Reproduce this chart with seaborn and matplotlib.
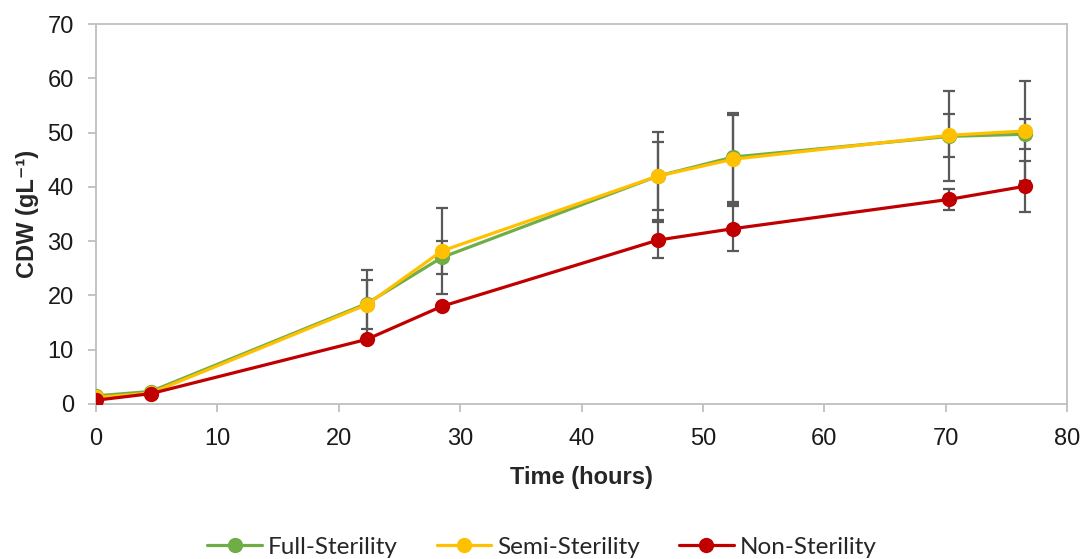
import numpy as np
import pandas as pd
import matplotlib
matplotlib.use("Agg")
import matplotlib.pyplot as plt
import seaborn as sns

# Sampling times (hours)
time_h = [0, 4.5, 22.3, 28.5, 46.3, 52.5, 70.3, 76.5]

# Cell dry weight (g/L) per sterility condition
full_sterility = [1.5, 2.3, 18.5, 27.0, 42.0, 45.5, 49.3, 49.7]
semi_sterility = [1.2, 2.0, 18.3, 28.2, 42.0, 45.1, 49.5, 50.3]
non_sterility = [0.7, 1.9, 11.9, 18.0, 30.2, 32.3, 37.7, 40.1]

# Standard deviations
full_err = [0.3, 0.3, 6.1, 3.0, 8.1, 8.2, 8.3, 2.8]
semi_err = [0.3, 0.3, 4.5, 7.9, 6.2, 8.2, 4.0, 9.2]
non_err = [0.2, 0.3, 0.5, 0.5, 3.3, 4.1, 1.9, 4.7]

conditions = ["Full-Sterility", "Semi-Sterility", "Non-Sterility"]
colors = ["#70AD47", "#FFC000", "#C00000"]

series = {
    "Full-Sterility": (full_sterility, full_err),
    "Semi-Sterility": (semi_sterility, semi_err),
    "Non-Sterility": (non_sterility, non_err),
}

df = pd.concat(
    [pd.DataFrame({"time": time_h, "cdw": vals, "err": errs, "condition": name})
     for name, (vals, errs) in series.items()],
    ignore_index=True,
)

sns.set_theme(style="white")
plt.rcParams["font.family"] = ["Liberation Sans", "DejaVu Sans"]

fig, ax = plt.subplots(figsize=(10.84, 5.59), dpi=100)
fig.subplots_adjust(left=0.0886, right=0.9843, top=0.957, bottom=0.2773)

# Error bars underneath the lines
for name in conditions:
    sub = df[df["condition"] == name]
    ax.errorbar(sub["time"], sub["cdw"], yerr=sub["err"], fmt="none",
                ecolor="#595959", elinewidth=1.6, capsize=4.5, capthick=1.6,
                zorder=1)

sns.lineplot(data=df, x="time", y="cdw", hue="condition", hue_order=conditions,
             palette=colors, marker="o", markersize=11, markeredgewidth=0,
             linewidth=2.3, ax=ax, zorder=3, legend=True)

ax.set_xlim(0, 80)
ax.set_ylim(0, 70)
ax.set_xticks(np.arange(0, 81, 10))
ax.set_yticks(np.arange(0, 71, 10))
ax.tick_params(axis="both", which="both", direction="out", length=6,
               width=1.3, color="#BFBFBF", labelsize=17, labelcolor="#1A1A1A")
ax.tick_params(axis="x", bottom=True, pad=11)
ax.tick_params(axis="y", left=True, pad=10)
for side in ["left", "right", "top", "bottom"]:
    ax.spines[side].set_visible(True)
    ax.spines[side].set_color("#BFBFBF")
    ax.spines[side].set_linewidth(1.3)

ax.set_xlabel("Time (hours)", fontsize=17, fontweight="bold", labelpad=12)
ax.set_ylabel("CDW (gL\u207b\u00b9)", fontsize=17, fontweight="bold",
              labelpad=6, family=["Liberation Sans", "DejaVu Sans"])

handles, labels = ax.get_legend_handles_labels()
ax.get_legend().remove()
fig.legend(handles, labels, loc="center", bbox_to_anchor=(0.5, 0.021),
           ncol=3, frameon=False, handlelength=2.25, handletextpad=0.25,
           columnspacing=1.6,
           prop={"family": ["Lato", "DejaVu Sans"], "size": 17.5})

fig.savefig("out.png", dpi=100)
